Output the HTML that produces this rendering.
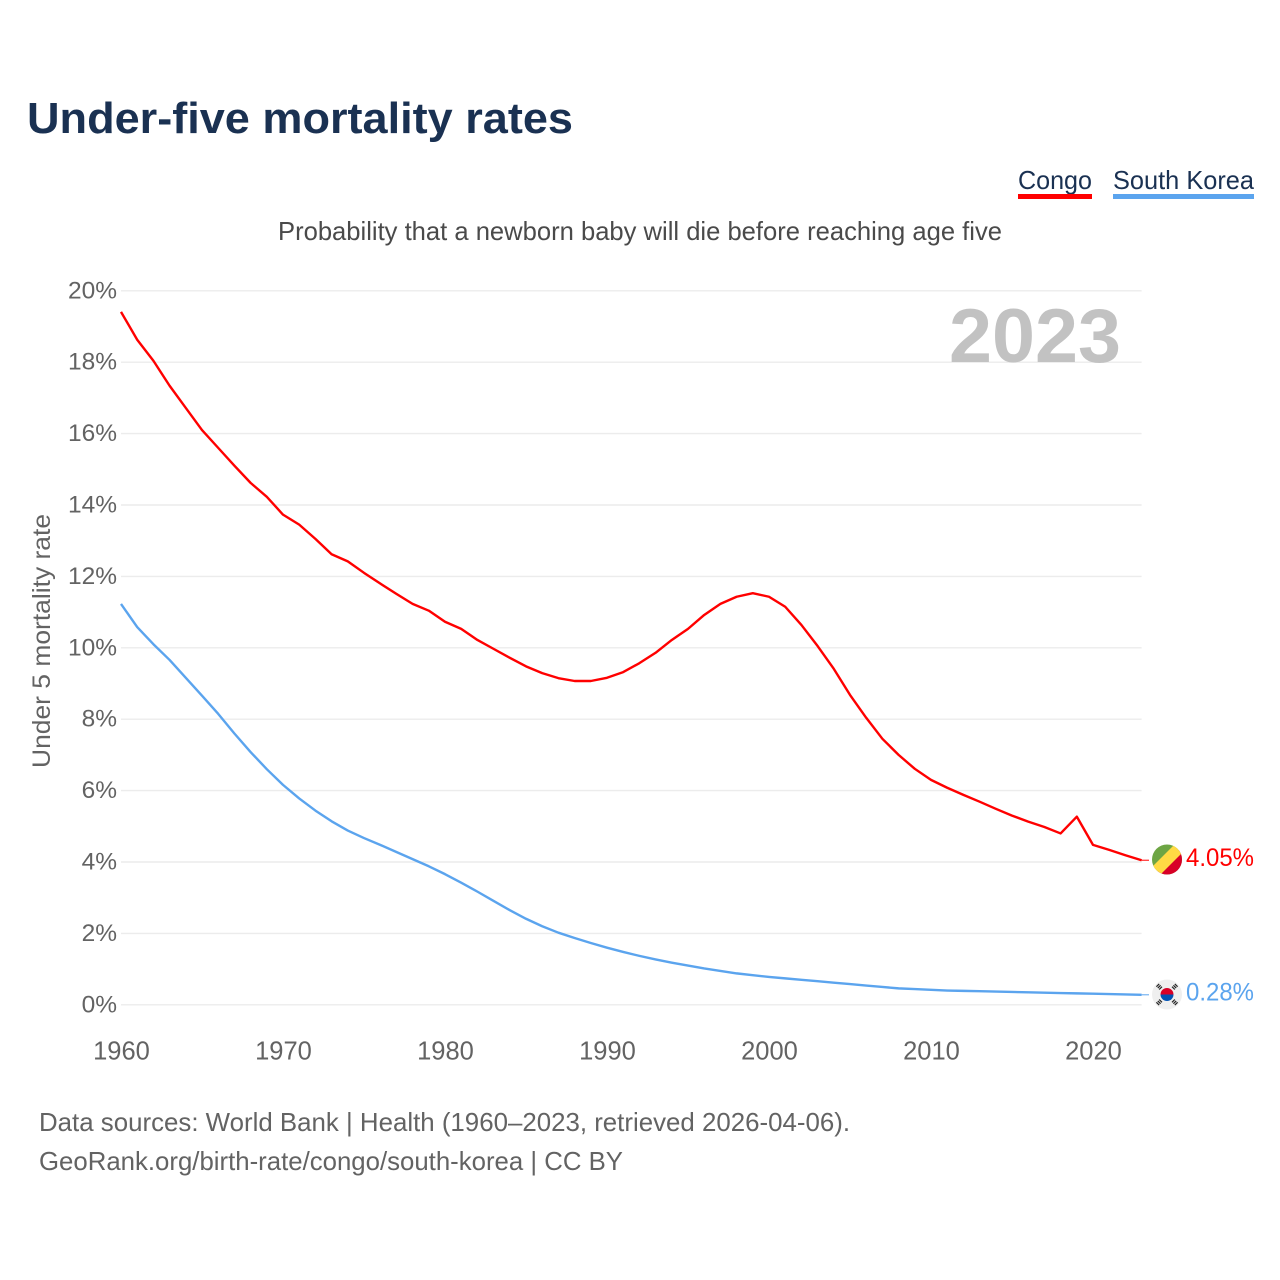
<!DOCTYPE html>
<html lang="en">
<head>
<meta charset="utf-8">
<title>Under-five mortality rates</title>
<style>
html,body{margin:0;padding:0;background:#fff;width:1280px;height:1280px;overflow:hidden}
svg{display:block}
text{font-family:"Liberation Sans",sans-serif}
</style>
</head>
<body>
<svg id="chart" xmlns="http://www.w3.org/2000/svg" width="1280" height="1280" viewBox="0 0 1280 1280">
  <rect x="0" y="0" width="1280" height="1280" fill="#fff"/>
  <text x="27" y="133" font-size="44" font-weight="700" fill="#1a3152" textLength="546" lengthAdjust="spacingAndGlyphs">Under-five mortality rates</text>
  <text x="1018" y="189" font-size="26" fill="#1a3152" textLength="74" lengthAdjust="spacingAndGlyphs">Congo</text>
  <rect x="1018" y="194" width="74" height="5" fill="#ff0000"/>
  <text x="1113" y="189" font-size="26" fill="#1a3152" textLength="141" lengthAdjust="spacingAndGlyphs">South Korea</text>
  <rect x="1113" y="194" width="141" height="5" fill="#5ba4ee"/>
  <text x="278" y="240" font-size="26" fill="#4a4a4a" textLength="724" lengthAdjust="spacingAndGlyphs">Probability that a newborn baby will die before reaching age five</text>
  <text transform="translate(50,641) rotate(-90)" text-anchor="middle" font-size="25" fill="#636363" textLength="254" lengthAdjust="spacingAndGlyphs">Under 5 mortality rate</text>
  <g id="grid"></g>
  <text x="949" y="362" font-size="76" font-weight="700" fill="#c2c2c2" textLength="172" lengthAdjust="spacingAndGlyphs">2023</text>
  <g id="yticks"></g>
  <g id="xticks"></g>
  <g id="series"></g>
  <defs>
    <clipPath id="clip-cg"><circle cx="1167" cy="859.5" r="15"/></clipPath>
  </defs>
  <g id="flag-congo" clip-path="url(#clip-cg)">
    <rect x="1150" y="843" width="34" height="34" fill="#6da544"/>
    <polygon points="1182,847 1182,875 1154,875" fill="#d80027"/>
    <polygon points="1176,843 1184,851 1158,877 1150,869" fill="#ffda44"/>
  </g>
  <g id="flag-korea">
    <circle cx="1167" cy="994.5" r="15" fill="#efefef"/>
    <path d="M1160.5 994.5a6.5 6.5 0 0 1 13 0z" fill="#d80027"/>
    <path d="M1160.5 994.5a6.5 6.5 0 0 0 13 0z" fill="#0052b4"/>
    <g stroke="#222" stroke-width="1.2">
      <path d="M1159.2 989.5l2.8-2.8M1157.8 988.1l2.8-2.8M1156.4 986.7l2.8-2.8"/>
      <path d="M1172 986.7l2.8 2.8M1173.4 985.3l2.8 2.8M1174.8 983.9l2.8 2.8"/>
      <path d="M1159.2 999.5l2.8 2.8M1157.8 1000.9l2.8 2.8M1156.4 1002.3l2.8 2.8"/>
      <path d="M1172 1002.3l2.8-2.8M1173.4 1003.7l2.8-2.8M1174.8 1005.1l2.8-2.8"/>
    </g>
  </g>
  <text x="1186" y="866" font-size="25" fill="#ff0000" textLength="68" lengthAdjust="spacingAndGlyphs">4.05%</text>
  <text x="1186" y="1000.5" font-size="25" fill="#5ba4ee" textLength="68" lengthAdjust="spacingAndGlyphs">0.28%</text>
  <text x="39" y="1131" font-size="26" fill="#636363" textLength="811" lengthAdjust="spacingAndGlyphs">Data sources: World Bank | Health (1960–2023, retrieved 2026-04-06).</text>
  <text x="39" y="1170" font-size="26" fill="#636363" textLength="584" lengthAdjust="spacingAndGlyphs">GeoRank.org/birth-rate/congo/south-korea | CC BY</text>
</svg>
<script>
const startYear = 1960;
const yTickValues = [0, 2, 4, 6, 8, 10, 12, 14, 16, 18, 20];
const yTickLabels = ["0%", "2%", "4%", "6%", "8%", "10%", "12%", "14%", "16%", "18%", "20%"];
const xTickValues = [1960, 1970, 1980, 1990, 2000, 2010, 2020];
const xTickLabels = ["1960", "1970", "1980", "1990", "2000", "2010", "2020"];
const congoValues = [
  19.41, 18.63, 18.04, 17.34, 16.72, 16.10, 15.60, 15.10, 14.62, 14.23,
  13.73, 13.45, 13.05, 12.62, 12.42, 12.10, 11.80, 11.51, 11.23, 11.04,
  10.73, 10.53, 10.22, 9.97, 9.72, 9.48, 9.29, 9.15, 9.07, 9.07,
  9.16, 9.32, 9.57, 9.86, 10.22, 10.53, 10.92, 11.23, 11.43, 11.53,
  11.43, 11.15, 10.64, 10.05, 9.41, 8.68, 8.04, 7.45, 7.00, 6.61,
  6.30, 6.08, 5.88, 5.69, 5.49, 5.30, 5.13, 4.98, 4.80, 5.27,
  4.48, 4.34, 4.19, 4.05
];
const koreaValues = [
  11.23, 10.58, 10.10, 9.66, 9.16, 8.66, 8.15, 7.60, 7.08, 6.60,
  6.16, 5.78, 5.44, 5.14, 4.88, 4.67, 4.48, 4.28, 4.08, 3.88,
  3.66, 3.42, 3.17, 2.91, 2.65, 2.41, 2.20, 2.02, 1.87, 1.73,
  1.60, 1.48, 1.37, 1.27, 1.18, 1.10, 1.02, 0.95, 0.88, 0.83,
  0.78, 0.74, 0.70, 0.66, 0.62, 0.58, 0.54, 0.50, 0.46, 0.44,
  0.42, 0.40, 0.39, 0.38, 0.37, 0.36, 0.35, 0.34, 0.33, 0.32,
  0.31, 0.30, 0.29, 0.28
];

const NS = "http://www.w3.org/2000/svg";
function xScale(year) { return 121 + (year - 1960) * 16.2; }
function yScale(v) { return 1004.8 - v * 35.7; }
function make(tag, attrs, parent, text) {
  const el = document.createElementNS(NS, tag);
  for (const k in attrs) el.setAttribute(k, attrs[k]);
  if (text !== undefined) el.textContent = text;
  parent.appendChild(el);
  return el;
}
const endX = xScale(2023);
const grid = document.getElementById("grid");
const yticks = document.getElementById("yticks");
const xticks = document.getElementById("xticks");
const series = document.getElementById("series");

yTickValues.forEach(function (v, i) {
  const line = make("line", {x1: 121, x2: endX, y1: yScale(v), y2: yScale(v), stroke: "#ececec", "stroke-width": 1.4}, grid);
  
  
  const label = make("text", {x: 117, y: yScale(v) + 7.5, "text-anchor": "end", "font-size": 24.5, fill: "#636363"}, yticks, yTickLabels[i]);
  
  
});
xTickValues.forEach(function (v, i) {
  const label = make("text", {x: xScale(v) + 0.5, y: 1059.5, "text-anchor": "middle", "font-size": 25.5, fill: "#636363"}, xticks, xTickLabels[i]);
  
  
});
function pointsFor(values) {
  return values.map(function (v, i) { return xScale(startYear + i).toFixed(2) + "," + yScale(v).toFixed(2); }).join(" ");
}
const koreaLine = make("polyline", {points: pointsFor(koreaValues), fill: "none", stroke: "#5ba4ee", "stroke-width": 2.4, "stroke-linejoin": "round"}, series);


const congoLine = make("polyline", {points: pointsFor(congoValues), fill: "none", stroke: "#ff0000", "stroke-width": 2.4, "stroke-linejoin": "round"}, series);


const congoEnd = yScale(congoValues[congoValues.length - 1]);
const koreaEnd = yScale(koreaValues[koreaValues.length - 1]);
const congoLeader = make("line", {x1: endX, x2: 1149, y1: congoEnd, y2: congoEnd, stroke: "#ff0000", "stroke-width": 1}, series);


const koreaLeader = make("line", {x1: endX, x2: 1149, y1: koreaEnd, y2: koreaEnd, stroke: "#5ba4ee", "stroke-width": 1}, series);


</script>
</body>
</html>
